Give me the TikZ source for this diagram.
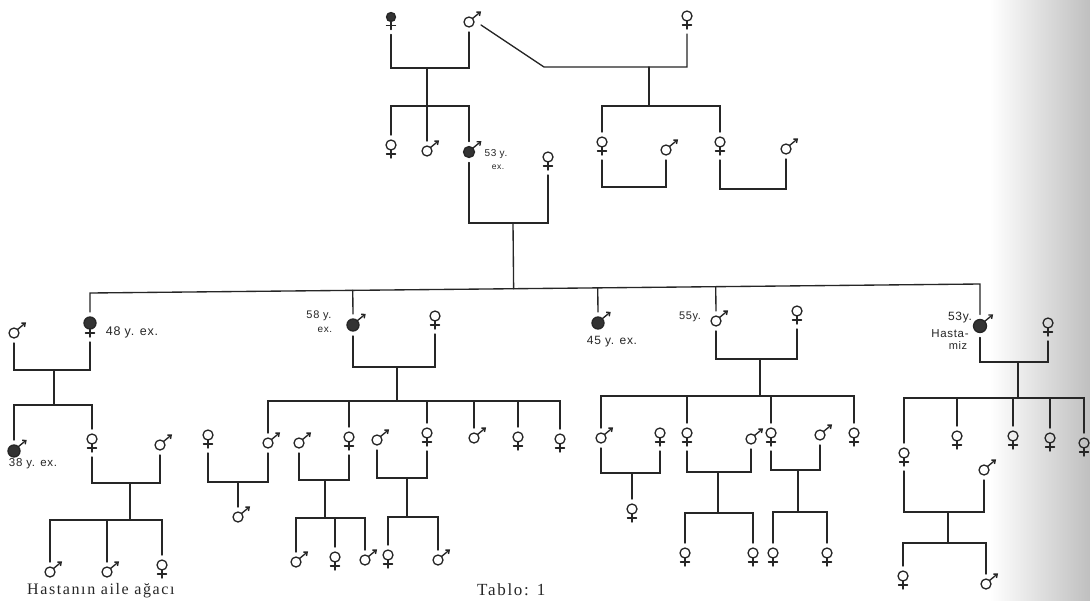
\documentclass[tikz,border=0pt]{standalone}
\usepackage{fontspec}
\setmainfont{Liberation Serif}
\newfontfamily\hand[LetterSpace=6]{Liberation Sans}
\newfontfamily\captfont[LetterSpace=10]{Liberation Serif}
\usetikzlibrary{arrows.meta,calc}

\tikzset{
  ln/.style={line width=1.35pt, draw=black!85, line cap=round},
  sym/.style={circle, draw=black!85, line width=1.3pt, minimum size=10pt, inner sep=0pt, outer sep=0pt},
  aff/.style={fill=black!80, minimum size=12pt},
  lab/.style={font=\hand\fontsize{11}{11}\selectfont, inner sep=0pt, text=black!85},
  captxt/.style={font=\captfont\fontsize{16}{16}\selectfont, inner sep=0pt, text=black!85, anchor=base west},
}

% female: circle + cross below
\newcommand\pedF[3][]{%
  \node[sym,#1] (#2) at (#3) {};
  \draw[ln] (#2.south) -- ++(0,8) coordinate (#2-s) ($(#2.south)+(-4.5,4)$) -- ++(9,0);
  \coordinate (#2-t) at ($(#2.north)+(0,-5)$);
  \coordinate (#2-b) at ($(#2-s)+(0,5)$);
}
% male: circle + arrow to upper right
\newcommand\pedM[3][]{%
  \node[sym,#1] (#2) at (#3) {};
  \draw[ln,-{Straight Barb[length=3pt,width=5pt]}] (#2.45) -- ++(8.5,-7);
  \coordinate (#2-t) at ($(#2.north)+(0,-5)$);
  \coordinate (#2-b) at ($(#2.south)+(0,5)$);
}
% couple line: name, partner 1, partner 2, point (x of descent, y of line)
\newcommand\cpl[4]{%
  \coordinate (#1) at (#4);
  \draw[ln] (#2-b) |- (#1) -| (#3-b);
}
\newcommand\drop[2]{\draw[ln] (#1-t) -- (#1-t |- #2);}

\begin{document}
\begin{tikzpicture}[x=1pt,y=-1pt]
\useasboundingbox (0,0) rectangle (1090,600);
\fill[white] (0,0) rectangle (1090,600);
\shade[left color=white, right color=black!25] (990,0) rectangle (1090,600);

% ---------- Generation I ----------
\pedF[aff,minimum size=9pt]{I1}{391,17}
\pedM{I2}{469,22}
\pedF{I3}{687,16}
\cpl{cI}{I1}{I2}{427,68}
\coordinate (dg) at (544,67);
\coordinate (cR) at (649,67);
\draw[ln] ($(I2)+(12,3)$) -- (dg) -| (I3-b);

% ---------- Generation II ----------
\pedF{II1}{391,145}
\pedM{II2}{427,151}
\pedM[aff,minimum size=11pt]{II3}{469,152}
\pedF{II4}{548,157}
\node[lab,font=\hand\fontsize{10}{10}\selectfont] (l53a) at (496,154) {53 y.};
\node[lab,font=\hand\fontsize{8.5}{8.5}\selectfont] (l53b) at (498,167) {ex.};
\coordinate (sII) at (427,106);
\draw[ln] (cI) -- (II2-t);
\draw[ln] (II1-t) |- (sII) -| (II3-t);

\pedF{II5}{602,142}
\pedM{II6}{666,150}
\pedF{II7}{720,142}
\pedM{II8}{786,149}
\coordinate (sR2) at (649,106);
\draw[ln] (cR) -- (sR2);
\draw[ln] (II5-t) |- (sR2) -| (II7-t);
\cpl{cA}{II5}{II6}{635,187}
\cpl{cB}{II7}{II8}{753,189}

\cpl{cII}{II3}{II4}{513,223}

% ---------- Generation III ----------
\pedF[aff]{III1}{90,323}
\pedM{III2}{14,333}
\pedM[aff]{III3}{353,325}
\pedF{III4}{435,316}
\pedM[aff]{III5}{598,323}
\pedM{III6}{716,321}
\pedF{III7}{797,311}
\pedM[aff,minimum size=13pt]{III8}{980,326}
\pedF{III9}{1048,323}

\coordinate (sL) at (90,293);
\coordinate (sRR) at (980,284);
\draw[ln] (III1-t) -- (sL) -- (sRR) -- (III8-t);
\draw[ln] (cII) -- ($(sL)!(cII)!(sRR)$);
\foreach \n in {III3,III5,III6}{\draw[ln] (\n-t) -- ($(sL)!(\n-t)!(sRR)$);}

\node[lab,font=\hand\fontsize{12.5}{12.5}\selectfont] (l48) at (132,332) {48 y. ex.};
\node[lab,font=\hand\fontsize{11}{11}\selectfont] (l58a) at (319,316) {58 y.};
\node[lab,font=\hand\fontsize{10}{10}\selectfont] (l58b) at (325,330) {ex.};
\node[lab,font=\hand\fontsize{12}{12}\selectfont] (l45) at (612,342) {45 y. ex.};
\node[lab,font=\hand\fontsize{11}{11}\selectfont] (l55) at (690,317) {55y.};
\node[lab,font=\hand\fontsize{12}{12}\selectfont] (l53c) at (960,318) {53y.};
\node[lab,font=\hand\fontsize{11.5}{11.5}\selectfont] (l53d) at (950,334) {Hasta-};
\node[lab,font=\hand\fontsize{11}{11}\selectfont] (l53e) at (958,346) {miz};

% ---------- Family A (left) ----------
\cpl{cA3}{III2}{III1}{54,370}
\coordinate (sA4) at (54,405);
\pedM[aff]{IV1}{14,451}
\pedF{IV2}{92,439}
\pedM{IV3}{160,445}
\node[lab,font=\hand\fontsize{11.5}{11.5}\selectfont] (l38) at (33,464) {38 y. ex.};
\draw[ln] (cA3) -- (sA4);
\draw[ln] (IV1-t) |- (sA4) -| (IV2-t);
\cpl{cA4}{IV2}{IV3}{130,483}
\coordinate (sA5) at (130,520);
\pedM{V1}{50,572}
\pedM{V2}{107,572}
\pedF{V3}{162,565}
\draw[ln] (cA4) -- (sA5);
\draw[ln] (V1-t) |- (sA5) -| (V3-t);
\drop{V2}{sA5}

% ---------- Family B ----------
\cpl{cB3}{III3}{III4}{397,367}
\coordinate (sB4) at (397,401);
\pedF{IV4}{208,435}
\pedM{IV5}{268,443}
\pedM{IV6}{299,443}
\pedF{IV7}{349,437}
\pedM{IV8}{377,440}
\pedF{IV9}{427,433}
\pedM{IV10}{474,438}
\pedF{IV11}{518,437}
\pedF{IV12}{560,439}
\draw[ln] (cB3) -- (sB4);
\draw[ln] (IV5-t) |- (sB4) -| (IV12-t);
\foreach \n in {IV7,IV9,IV10,IV11}{\drop{\n}{sB4}}

\cpl{cB4a}{IV4}{IV5}{238,482}
\pedM{V4}{238,517}
\draw[ln] (cB4a) -- (V4-t);

\cpl{cB4b}{IV6}{IV7}{325,480}
\coordinate (sB5) at (325,518);
\pedM{V5}{296,562}
\pedF{V6}{335,557}
\pedM{V7}{365,560}
\draw[ln] (cB4b) -- (sB5);
\draw[ln] (V5-t) |- (sB5) -| (V7-t);
\drop{V6}{sB5}

\cpl{cB4c}{IV8}{IV9}{407,478}
\coordinate (sB6) at (407,517);
\pedF{V8}{388,555}
\pedM{V9}{438,560}
\draw[ln] (cB4c) -- (sB6);
\draw[ln] (V8-t) |- (sB6) -| (V9-t);

% ---------- Family D ----------
\cpl{cD3}{III6}{III7}{760,359}
\coordinate (sD4) at (760,396);
\pedM{IV13}{601,438}
\pedF{IV14}{660,433}
\pedF{IV15}{687,433}
\pedM{IV16}{751,439}
\pedF{IV17}{771,433}
\pedM{IV18}{820,435}
\pedF{IV19}{854,433}
\draw[ln] (cD3) -- (sD4);
\draw[ln] (IV13-t) |- (sD4) -| (IV19-t);
\foreach \n in {IV15,IV17}{\drop{\n}{sD4}}

\cpl{cD4a}{IV13}{IV14}{632,473}
\pedF{V10}{632,509}
\draw[ln] (cD4a) -- (V10-t);

\cpl{cD4b}{IV15}{IV16}{718,472}
\coordinate (sD5) at (718,513);
\pedF{V11}{685,553}
\pedF{V12}{753,553}
\draw[ln] (cD4b) -- (sD5);
\draw[ln] (V11-t) |- (sD5) -| (V12-t);

\cpl{cD4c}{IV17}{IV18}{798,470}
\coordinate (sD6) at (798,512);
\pedF{V13}{773,553}
\pedF{V14}{827,553}
\draw[ln] (cD4c) -- (sD6);
\draw[ln] (V13-t) |- (sD6) -| (V14-t);

% ---------- Family E (patient) ----------
\cpl{cE3}{III8}{III9}{1018,362}
\coordinate (sE4) at (1018,398);
\pedF{IV20}{904,453}
\pedF{IV21}{957,436}
\pedF{IV22}{1013,436}
\pedF{IV23}{1050,438}
\pedF{IV24}{1084,443}
\pedM{IV25}{984,470}
\draw[ln] (cE3) -- (sE4);
\draw[ln] (IV20-t) |- (sE4) -| (IV24-t);
\foreach \n in {IV21,IV22,IV23}{\drop{\n}{sE4}}

\cpl{cE4}{IV20}{IV25}{948,512}
\coordinate (sE5) at (948,543);
\pedF{V15}{903,576}
\pedM{V16}{986,584}
\draw[ln] (cE4) -- (sE5);
\draw[ln] (V15-t) |- (sE5) -| (V16-t);

% ---------- captions ----------
\node[captxt] (cap1) at (27,594) {Hastanın aile ağacı};
\node[captxt,font=\captfont\fontsize{17}{17}\selectfont] (cap2) at (477,595) {Tablo: 1};
\end{tikzpicture}
\end{document}
